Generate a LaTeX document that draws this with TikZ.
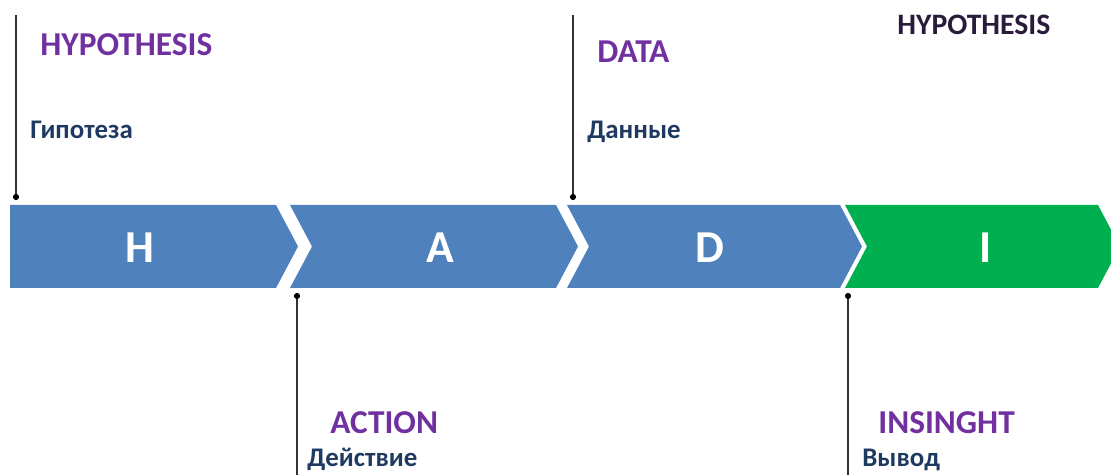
\documentclass[tikz,border=0pt]{standalone}
\usepackage{fontspec}
\setmainfont{Carlito}
\definecolor{stepblue}{HTML}{4F81BD}
\definecolor{stepgreen}{HTML}{00B050}
\definecolor{titlepurple}{HTML}{7030A0}
\definecolor{rusblue}{HTML}{1F3A60}
\definecolor{darktitle}{HTML}{2B1B3B}
\newcommand{\TipDepth}{22}
\newcommand{\BandTop}{205}
\newcommand{\BandBot}{288}
\newcommand{\BandMid}{246.5}
% notched chevron: #1 left edge, #2 right corner
\newcommand{\Chevron}[2]{%
(#1,\BandTop) -- (#2,\BandTop) -- (#2+\TipDepth,\BandMid) -- %
(#2,\BandBot) -- (#1,\BandBot) -- (#1+\TipDepth,\BandMid) -- cycle %
}
% first chevron, flat left edge
\newcommand{\FlatChevron}[2]{%
(#1,\BandTop) -- (#2,\BandTop) -- (#2+\TipDepth,\BandMid) -- %
(#2,\BandBot) -- (#1,\BandBot) -- cycle %
}

\begin{document}
\begin{tikzpicture}[x=0.02cm,y=-0.02cm,
    title/.style={anchor=base west,inner sep=0pt,font=\bfseries\fontsize{19}{22}\selectfont,text=titlepurple},
    subtitle/.style={anchor=base west,inner sep=0pt,font=\bfseries\fontsize{15.3}{18}\selectfont,text=rusblue},
    letter/.style={inner sep=0pt,font=\bfseries\fontsize{26}{30}\selectfont,text=white},
    marker/.style={circle,fill=black,inner sep=0pt,minimum size=3.5pt},
    pin/.style={draw=black!80,line width=0.6pt}]
    \useasboundingbox (0,0) rectangle (1111,475);
    \path[clip] (0,0) rectangle (1111,475);
    \fill[stepblue] \FlatChevron{10}{276};
    \fill[stepblue] \Chevron{290}{556};
    \fill[stepblue] \Chevron{567}{840};
    \fill[stepgreen] \Chevron{845}{1098};
    \node[letter] (hLetter) at (140,248) {H};
    \node[letter] (aLetter) at (440,248) {A};
    \node[letter] (dLetter) at (710,248) {D};
    \node[letter] (iLetter) at (986,248) {I};
    % pins above the band
    \node[marker] (hDot) at (16,197) {};
    \coordinate (hTop) at (16,15);
    \draw[pin] (hDot) -- (hTop);
    \node[marker] (dDot) at (573,197) {};
    \coordinate (dTop) at (573,15);
    \draw[pin] (dDot) -- (dTop);
    % pins below the band
    \node[marker] (aDot) at (297,296) {};
    \coordinate (aBot) at (297,475);
    \draw[pin] (aDot) -- (aBot);
    \node[marker] (iDot) at (848,296) {};
    \coordinate (iBot) at (848,475);
    \draw[pin] (iDot) -- (iBot);
    % labels
    \node[title] (hTitle) at (40,56) {HYPOTHESIS};
    \node[subtitle] (hSub) at (30,139) {Гипотеза};
    \node[title] (dTitle) at (597,63) {DATA};
    \node[subtitle] (dSub) at (587,139) {Данные};
    \node[title,text=darktitle,font=\bfseries\fontsize{16.9}{20}\selectfont] (nextTitle) at (897,35) {HYPOTHESIS};
    \node[title] (aTitle) at (330,434) {ACTION};
    \node[subtitle] (aSub) at (307,467) {Действие};
    \node[title] (iTitle) at (878,434) {INSINGHT};
    \node[subtitle] (iSub) at (862,467) {Вывод};
\end{tikzpicture}
\end{document}
